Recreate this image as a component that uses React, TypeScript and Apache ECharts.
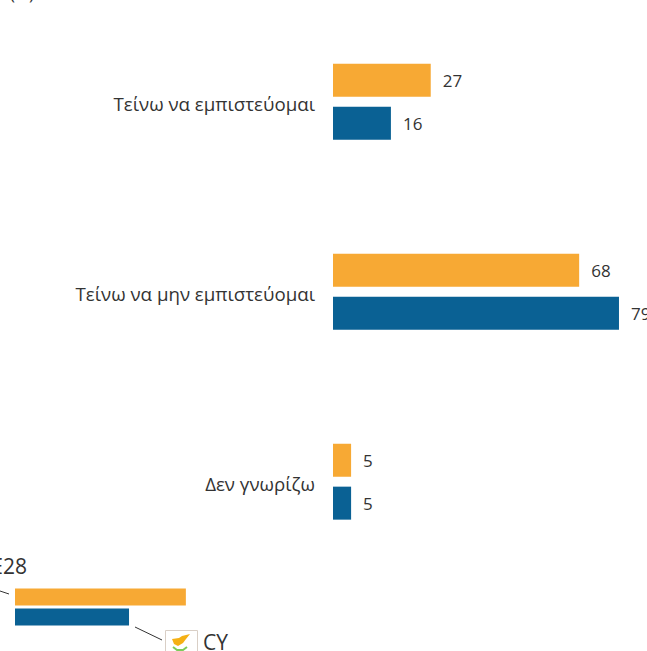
import React, { useEffect, useRef } from "react";
import * as echarts from "echarts";

const categories = ["Τείνω να εμπιστεύομαι", "Τείνω να μην εμπιστεύομαι", "Δεν γνωρίζω"];
const eu28Values = [27, 68, 5];
const cyValues = [16, 79, 5];
const legendNames = ["ΕΕ28", "CY"];
const legendBarValues = [47.2, 31.5];
const ORANGE = "#f7a934";
const BLUE = "#0a6194";
const TEXT = "#333333";
const FONT = "'Open Sans', 'Noto Sans', sans-serif";

export default function App() {
  const ref = useRef<HTMLDivElement>(null);
  useEffect(() => {
    const chart = echarts.init(ref.current!, null, { renderer: "svg" });
    const valueLabel = {
      show: true,
      position: "right" as const,
      distance: 12,
      color: TEXT,
      fontFamily: FONT,
      fontSize: 17,
    };
    chart.setOption({
      animation: false,
      backgroundColor: "#ffffff",
      grid: [
        { left: 333, top: 6.7, width: 314, height: 570 },
        { left: 15, top: 587, width: 362, height: 40 },
      ],
      xAxis: [
        { gridIndex: 0, type: "value", min: 0, max: 86.74, show: false },
        { gridIndex: 1, type: "value", min: 0, max: 100, show: false },
      ],
      yAxis: [
        {
          gridIndex: 0,
          type: "category",
          inverse: true,
          data: categories,
          axisLine: { show: false },
          axisTick: { show: false },
          axisLabel: {
            margin: 18,
            color: TEXT,
            fontFamily: FONT,
            fontSize: 18.7,
            verticalAlign: "top",
            lineHeight: 4,
          },
        },
        {
          gridIndex: 1,
          type: "category",
          inverse: true,
          data: legendNames,
          show: false,
        },
      ],
      series: [
        {
          name: legendNames[0],
          type: "bar",
          data: eu28Values,
          barWidth: 33,
          barGap: "30%",
          itemStyle: { color: ORANGE },
          label: valueLabel,
        },
        {
          name: legendNames[1],
          type: "bar",
          data: cyValues,
          barWidth: 33,
          barGap: "30%",
          itemStyle: { color: BLUE },
          label: valueLabel,
        },
        {
          name: "legend",
          type: "bar",
          xAxisIndex: 1,
          yAxisIndex: 1,
          barWidth: 17,
          data: [
            { value: legendBarValues[0], itemStyle: { color: ORANGE } },
            { value: legendBarValues[1], itemStyle: { color: BLUE } },
          ],
        },
      ],
      graphic: [
        { type: "text", x: 10, y: -15, style: { text: "(%)", fill: TEXT, font: `17px ${FONT}` } },
        { type: "text", x: 27, y: 566, style: { text: legendNames[0], fill: TEXT, font: `21px ${FONT}`, textAlign: "right", textVerticalAlign: "middle" } },
        { type: "line", shape: { x1: 0, y1: 591, x2: 9, y2: 594 }, style: { stroke: "#333", lineWidth: 1 } },
        { type: "line", shape: { x1: 135, y1: 627, x2: 162, y2: 640 }, style: { stroke: "#333", lineWidth: 1 } },
        { type: "rect", shape: { x: 165.5, y: 630.5, width: 32, height: 30 }, style: { fill: "#fff", stroke: "#d9cfc6", lineWidth: 1 } },
        { type: "polygon", shape: { points: [[172, 639], [179, 638], [182, 636], [190, 634], [186, 639], [183, 643], [178, 646], [174, 644]] }, style: { fill: "#f5b014" } },
        { type: "polyline", shape: { points: [[173, 647], [177, 650], [183, 650], [187, 647]] }, style: { stroke: "#7ccc5a", fill: "none", lineWidth: 2 } },
        { type: "text", x: 203, y: 642, style: { text: legendNames[1], fill: TEXT, font: `21px ${FONT}`, textVerticalAlign: "middle" } },
      ],
    });
    return () => chart.dispose();
  }, []);
  return <div ref={ref} style={{ position: "fixed", left: 0, top: 0, width: 647, height: 651 }} />;
}
